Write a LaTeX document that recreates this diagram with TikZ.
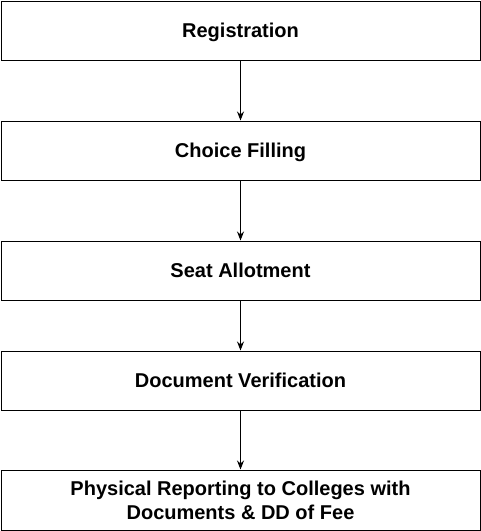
\documentclass[tikz,border=0pt]{standalone}
\usepackage{fontspec}
\setmainfont{Liberation Sans}
\usetikzlibrary{arrows.meta}
\begin{document}
\begin{tikzpicture}
  [x=1pt,y=-1pt,
   every node/.style={draw,line width=1pt,minimum width=479pt,minimum height=59pt,
     align=center,font=\fontsize{20}{24}\selectfont\bfseries,inner sep=0pt},
   oneline/.style={text height=14.5pt,text depth=0pt},
   flow/.style={line width=1pt,-{Stealth[length=9pt,width=7pt]}}]
  \useasboundingbox (0,0) rectangle (481,531);

  \node [oneline] (R) at (240.5,30.5) {Registration};
  \node [oneline] (C) at (240.5,150.5) {Choice Filling};
  \node [oneline] (S) at (240.5,270.5) {Seat Allotment};
  \node [oneline] (D) at (240.5,380.5) {Document Verification};
  \node [minimum height=60pt] (P) at (240.5,500) {Physical Reporting to Colleges with\\Documents \& DD of Fee};

  \foreach \from/\to in {R/C,C/S,S/D,D/P}
    \draw [flow] (\from) -- (\to);
\end{tikzpicture}
\end{document}
